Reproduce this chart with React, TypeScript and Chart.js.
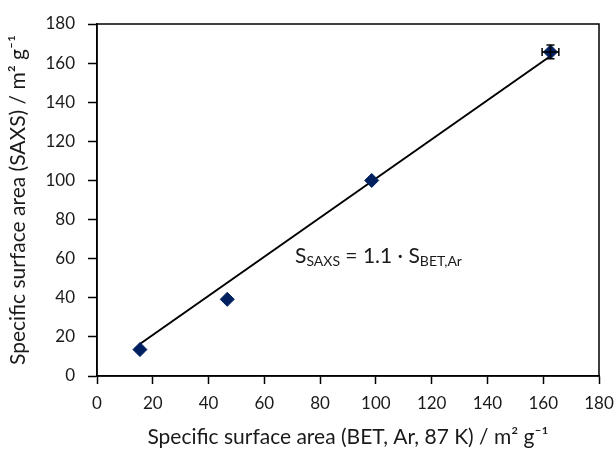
import React, { useEffect, useRef } from "react";
import { Chart, registerables } from "chart.js";

Chart.register(...registerables);

// Data
const betX = [15.4, 46.7, 98.5, 162.6];
const saxsY = [13.5, 39.2, 100.0, 165.7];
const betErr = [0, 0, 0, 3.0];
const saxsErr = [0, 0, 0, 3.5];
const fitX = [15.5, 162.5];
const fitY = [16.5, 163.5];
const axisMin = 0;
const axisMax = 180;
const axisStep = 20;

const xTitle = "Specific surface area (BET, Ar, 87 K) / m\u00B2 g\u207B\u00B9";
const yTitle = "Specific surface area (SAXS) / m\u00B2 g\u207B\u00B9";
const annotX = 71;
const annotY = 57.6;

const FONT = "Lato, 'Open Sans', sans-serif";
const TEXT = "#1a1a1a";
const MARK = "#002060";

const errPlugin = {
  id: "errbars",
  afterDatasetsDraw(chart: any) {
    const { ctx, scales } = chart;
    const x = scales.x, y = scales.y;
    ctx.save();
    ctx.strokeStyle = "#000";
    ctx.lineWidth = 1.5;
    for (let i = 0; i < betX.length; i++) {
      const px = x.getPixelForValue(betX[i]);
      const py = y.getPixelForValue(saxsY[i]);
      if (betErr[i] > 0) {
        const x1 = x.getPixelForValue(betX[i] - betErr[i]);
        const x2 = x.getPixelForValue(betX[i] + betErr[i]);
        ctx.beginPath();
        ctx.moveTo(x1, py); ctx.lineTo(x2, py);
        ctx.moveTo(x1, py - 4); ctx.lineTo(x1, py + 4);
        ctx.moveTo(x2, py - 4); ctx.lineTo(x2, py + 4);
        ctx.stroke();
      }
      if (saxsErr[i] > 0) {
        const y1 = y.getPixelForValue(saxsY[i] - saxsErr[i]);
        const y2 = y.getPixelForValue(saxsY[i] + saxsErr[i]);
        ctx.beginPath();
        ctx.moveTo(px, y1); ctx.lineTo(px, y2);
        ctx.moveTo(px - 4, y1); ctx.lineTo(px + 4, y1);
        ctx.moveTo(px - 4, y2); ctx.lineTo(px + 4, y2);
        ctx.stroke();
      }
    }
    ctx.restore();
  },
};

const framePlugin = {
  id: "frame",
  afterDraw(chart: any) {
    const { ctx, chartArea: a } = chart;
    ctx.save();
    ctx.strokeStyle = "#000";
    ctx.lineWidth = 1.5;
    ctx.strokeRect(a.left, a.top, a.right - a.left, a.bottom - a.top);
    ctx.restore();
  },
};

const annotPlugin = {
  id: "annot",
  afterDatasetsDraw(chart: any) {
    const { ctx, scales } = chart;
    let px = scales.x.getPixelForValue(annotX);
    const py = scales.y.getPixelForValue(annotY);
    ctx.save();
    ctx.fillStyle = TEXT;
    ctx.textBaseline = "alphabetic";
    ctx.textAlign = "left";
    const parts: [string, boolean][] = [
      ["S", false],
      ["SAXS", true],
      [" = 1.1 \u00B7 S", false],
      ["BET,Ar", true],
    ];
    for (const [t, sub] of parts) {
      ctx.font = sub ? `14px ${FONT}` : `21px ${FONT}`;
      ctx.fillText(t, px, sub ? py + 3 : py);
      px += ctx.measureText(t).width;
    }
    ctx.restore();
  },
};

export default function App() {
  const ref = useRef<HTMLCanvasElement>(null);
  useEffect(() => {
    if (!ref.current) return;
    const ticks = {
      color: TEXT,
      font: { family: FONT, size: 17 },
      stepSize: axisStep,
    };
    const chart = new Chart(ref.current, {
      type: "scatter",
      data: {
        datasets: [
          {
            label: "data",
            data: betX.map((v, i) => ({ x: v, y: saxsY[i] })),
            pointStyle: "rectRot",
            pointRadius: 7,
            pointBackgroundColor: MARK,
            pointBorderColor: MARK,
            borderWidth: 1,
            showLine: false,
          },
          {
            label: "fit",
            data: fitX.map((v, i) => ({ x: v, y: fitY[i] })),
            showLine: true,
            borderColor: "#000",
            borderWidth: 2,
            pointRadius: 0,
          },
        ],
      },
      options: {
        responsive: false,
        animation: false,
        layout: { padding: { top: 24, right: 17, left: 0, bottom: 0 } },
        plugins: { legend: { display: false }, tooltip: { enabled: false } },
        scales: {
          x: {
            type: "linear",
            min: axisMin,
            max: axisMax,
            ticks: { ...ticks, padding: 9 },
            grid: { drawOnChartArea: false, drawTicks: true, tickLength: 8, tickColor: "#000", tickWidth: 1.5 },
            border: { display: true, color: "#000", width: 1.5 },
            title: {
              display: true,
              text: xTitle,
              color: TEXT,
              font: { family: FONT, size: 21 },
              padding: { top: 0, bottom: 0 },
            },
            afterFit: (s: any) => { s.height = 74; s.paddingLeft = 0; s.paddingRight = 0; },
          },
          y: {
            type: "linear",
            min: axisMin,
            max: axisMax,
            ticks: { ...ticks, padding: 13 },
            grid: { drawOnChartArea: false, drawTicks: true, tickLength: 9, tickColor: "#000", tickWidth: 1.5 },
            border: { display: true, color: "#000", width: 1.5 },
            title: {
              display: true,
              text: yTitle,
              color: TEXT,
              font: { family: FONT, size: 21 },
              padding: { top: 6, bottom: 0 },
            },
            afterFit: (s: any) => { s.width = 97; s.paddingTop = 0; s.paddingBottom = 0; },
          },
        },
      } as any,
      plugins: [errPlugin, framePlugin, annotPlugin],
    });
    return () => chart.destroy();
  }, []);
  return (
    <div style={{ position: "fixed", left: 0, top: 0, width: 616, height: 450, background: "#fff" }}>
      <canvas ref={ref} width={616} height={450} style={{ width: 616, height: 450 }} />
    </div>
  );
}
